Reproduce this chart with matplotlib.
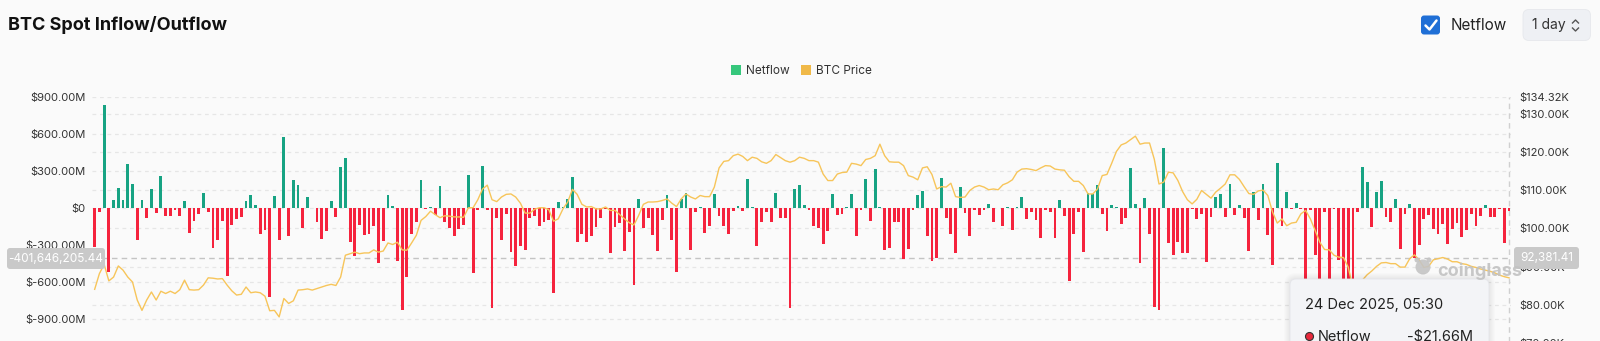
import matplotlib
matplotlib.use("Agg")
import matplotlib.pyplot as plt
from matplotlib.patches import FancyBboxPatch, Circle, Rectangle
from matplotlib.transforms import blended_transform_factory

# daily spot netflow, $M (28 Feb 2025 .. 24 Dec 2025)
netflow = [
    -320, -35, 837, -521, 62, 160, 62, 360, 195, -257,
    68, -84, 157, -38, 260, -68, -62, -19, -62, 60,
    -203, -103, -46, 122, -32, -327, -257, -105, -554, -135,
    -89, -76, 57, 103, 22, -211, -176, -721, 97, -257,
    572, -224, 224, 186, -162, 86, 3, -116, -251, -189,
    57, -76, 335, 408, -278, -392, -135, -216, -211, -143,
    -446, -270, 103, 14, -427, -829, -559, -211, -116, 230,
    -8, 5, -54, 181, -116, -162, -230, -170, -135, 270,
    -527, -19, 338, -19, -810, -84, -257, -46, -359, -467,
    -311, -338, -84, -62, -146, -116, -95, -689, 46, 5,
    70, 251, -273, -208, -278, -230, -157, -84, -5, -365,
    -157, -122, -346, -197, -621, 70, -162, -84, -216, -346,
    -97, 108, -257, -521, 76, 124, -343, -35, 5, -203,
    -149, 113, -62, -143, -208, -27, 14, -24, 235, 8,
    -311, -111, -35, -116, 124, -78, -84, -810, 154, 184,
    24, -19, -149, -162, -289, -184, 111, -54, -51, 11,
    116, -224, -19, 235, -103, 319, 11, -343, -327, -113,
    -116, -413, -329, -14, 108, 135, -224, -432, -405, 243,
    -81, -208, -365, 173, -41, -224, -16, -59, -19, 32,
    -113, -3, -143, 8, -181, 8, 89, -92, -35, -95,
    -240, -19, -35, -246, 68, -62, -589, -211, -30, -356,
    124, 116, 184, -51, -189, 24, 8, -130, -84, 324,
    32, -446, 81, -211, -802, -829, 483, -284, -378, -278,
    -365, -365, -8, -89, -51, -437, -70, 89, 111, -73,
    192, -57, 22, -81, -346, 127, -97, 192, -219, -459,
    365, -143, 130, -8, 41, -5, -700, -19, -378, -700,
    -35, -700, -8, -419, -650, -700, -650, -35, 329, 211,
    -154, 132, 219, -73, -113, 76, -332, -49, 35, -405,
    -302, -86, -59, -170, -208, -130, -289, -170, -122, -235,
    -176, -46, -149, -68, 22, -70, -76, -5, -286, -21.66,
]

# BTC price, $K, same days
btc_price = [
    84.1, 88.2, 90.6, 86.3, 87.3, 90.2, 89.1, 87.3, 86.0, 81.3,
    78.6, 81.3, 83.4, 81.3, 83.6, 83.0, 83.6, 83.0, 84.0, 86.5,
    84.0, 83.9, 84.0, 85.2, 87.1, 87.0, 86.8, 86.9, 85.2, 83.7,
    82.6, 82.8, 84.7, 83.2, 83.4, 83.2, 82.3, 78.5, 78.6, 76.9,
    81.7, 80.4, 81.1, 83.9, 84.0, 84.2, 83.9, 84.3, 84.7, 85.1,
    85.4, 85.1, 87.3, 93.0, 93.4, 93.8, 93.4, 93.6, 93.6, 94.4,
    93.8, 94.1, 96.2, 95.8, 96.4, 94.4, 94.3, 96.2, 98.2, 102.1,
    103.1, 104.5, 103.6, 102.8, 103.3, 103.2, 103.0, 103.0, 102.9, 105.4,
    105.4, 107.5, 110.3, 111.3, 107.5, 107.0, 108.2, 108.9, 109.0, 108.2,
    106.6, 104.0, 104.0, 105.0, 105.4, 105.4, 104.9, 101.9, 102.5, 105.1,
    106.9, 110.2, 108.9, 106.3, 105.6, 105.7, 105.1, 105.1, 105.6, 104.7,
    104.7, 103.6, 102.5, 101.5, 100.9, 103.4, 106.3, 106.9, 106.9, 107.0,
    107.3, 107.7, 106.6, 105.7, 107.7, 109.0, 108.2, 107.7, 108.6, 108.3,
    108.3, 110.8, 115.8, 117.5, 117.7, 119.0, 119.4, 118.8, 117.7, 118.6,
    118.3, 117.4, 117.0, 117.7, 119.3, 118.5, 117.7, 117.3, 117.7, 118.6,
    118.3, 117.7, 117.7, 117.3, 114.2, 112.5, 112.5, 114.2, 114.6, 114.7,
    117.0, 116.8, 116.4, 118.0, 118.3, 119.0, 122.0, 119.0, 117.4, 117.3,
    117.3, 116.4, 113.8, 113.4, 112.7, 115.8, 116.1, 114.1, 110.3, 110.9,
    110.8, 111.8, 108.3, 108.1, 108.2, 109.9, 110.8, 111.2, 110.8, 110.1,
    110.3, 110.1, 111.4, 111.9, 112.7, 114.7, 115.5, 115.6, 115.4, 115.1,
    115.8, 116.4, 116.3, 115.5, 115.3, 115.2, 113.5, 112.3, 112.3, 111.2,
    109.0, 109.0, 110.3, 113.8, 114.1, 117.0, 120.1, 121.8, 122.3, 123.2,
    124.1, 122.0, 122.3, 122.3, 118.1, 111.6, 112.1, 114.7, 114.5, 112.5,
    109.6, 107.5, 106.4, 107.6, 109.9, 108.9, 107.9, 109.5, 110.5, 111.6,
    114.0, 114.0, 112.8, 110.9, 109.1, 108.9, 109.8, 110.0, 108.6, 104.3,
    101.4, 102.5, 100.7, 101.4, 101.6, 103.8, 104.7, 102.5, 99.5, 96.4,
    94.5, 94.4, 93.0, 92.5, 92.4, 89.9, 84.5, 85.5, 86.5, 87.9,
    88.9, 90.1, 91.0, 91.1, 90.8, 90.8, 89.9, 89.9, 92.1, 93.1,
    91.8, 89.8, 90.1, 91.8, 92.1, 92.4, 92.0, 91.3, 91.3, 90.8,
    90.6, 90.1, 89.8, 89.4, 89.1, 88.8, 88.4, 87.8, 87.4, 87.1,
]

flow_ticks = [900, 600, 300, 0, -300, -600, -900]
flow_labels = ["$900.00M", "$600.00M", "$300.00M", "$0",
               "$-300.00M", "$-600.00M", "$-900.00M"]
price_ticks = [134.32, 130, 120, 110, 100, 90, 80, 70]
price_labels = ["$134.32K", "$130.00K", "$120.00K", "$110.00K",
                "$100.00K", "$90.00K", "$80.00K", "$70.00K"]

cursor_flow = -401646205.44 / 1e6
cursor_price = 92381.41 / 1e3
hover_date = "24 Dec 2025, 05:30"
hover_value = "-$21.66M"

BG = "#fafafa"
GREEN = "#17a383"
RED = "#f5233d"
PRICE = "#f7c55a"
GRID = "#e6e6e6"
TXT = "#333333"

plt.rcParams["font.family"] = ["Inter", "DejaVu Sans"]

W, H = 1600, 341
fig = plt.figure(figsize=(W / 100, H / 100), dpi=100, facecolor=BG)


def box(x0, y0, x1, y1):
    # pixel box (top-left origin) -> figure fraction
    return [x0 / W, 1 - y1 / H, (x1 - x0) / W, (y1 - y0) / H]


ax = fig.add_axes(box(92.3, 97, 1511.4, 360))
ax.set_facecolor("none")
ax2 = ax.twinx()

n = len(netflow)
xs = list(range(n))
ax.set_xlim(-0.5, n - 0.5)
ax.set_ylim(-1232.4, 900)
ax2.set_ylim(65.64, 134.32)

for a in (ax, ax2):
    for s in a.spines.values():
        s.set_visible(False)
    a.set_xticks([])
    a.tick_params(axis="y", length=0, labelsize=8, labelcolor=TXT)

ax.set_yticks(flow_ticks, flow_labels)
ax.tick_params(axis="y", pad=5)
ax2.set_yticks(price_ticks, price_labels)
ax2.tick_params(axis="y", pad=5.5)

# dashed grid for both scales, drawn under the bars
right_tr = blended_transform_factory(ax.transAxes, ax2.transData)
for v in flow_ticks:
    if v == -300:
        continue
    ax.plot([0, 1], [v, v], transform=ax.get_yaxis_transform(),
            color=GRID, lw=0.9, ls=(0, (3, 3)), zorder=0)
for p in price_ticks[1:]:
    ax.plot([0, 1], [p, p], transform=right_tr,
            color=GRID, lw=0.9, ls=(0, (3, 3)), zorder=0)

colors = [GREEN if v >= 0 else RED for v in netflow]
ax.bar(xs, netflow, width=0.6, color=colors, zorder=2)

# crosshair
ax.axhline(cursor_flow, color="#c4c4c4", lw=1.0, ls=(0, (4, 3)), zorder=1)
ax.axvline(n - 1, color="#d0d0d0", lw=1.0, ls=(0, (4, 3)), zorder=1)

ax2.plot(xs, btc_price, color=PRICE, lw=1.0, zorder=3)

# overlay in pixel coordinates for header, legend, labels and tooltip
ov = fig.add_axes([0, 0, 1, 1], zorder=10)
ov.set_xlim(0, W)
ov.set_ylim(H, 0)
ov.axis("off")
ov.patch.set_visible(False)

ov.text(8, 25, "BTC Spot Inflow/Outflow", fontsize=13, fontweight="bold",
        color="#111111", va="center", ha="left")

# netflow checkbox
ov.add_patch(FancyBboxPatch((1421, 15.5), 19, 19, boxstyle="round,pad=0,rounding_size=3",
                            fc="#1f6fd6", ec="none"))
ov.plot([1425.5, 1429.5, 1436.5], [25.5, 29.5, 20.5], color="white", lw=1.8,
        solid_capstyle="round", solid_joinstyle="round")
ov.text(1451, 25.5, "Netflow", fontsize=11, color="#222222", va="center", ha="left")

# interval selector
ov.add_patch(FancyBboxPatch((1523, 9.5), 67.5, 31, boxstyle="round,pad=0,rounding_size=6",
                            fc="#eef0f4", ec="#e6e8ec", lw=0.6))
ov.text(1531.5, 25.5, "1 day", fontsize=10, color="#333333", va="center", ha="left")
ov.plot([1572.5, 1575.5, 1578.5], [23, 20, 23], color="#555555", lw=1.0)
ov.plot([1572.5, 1575.5, 1578.5], [28, 31, 28], color="#555555", lw=1.0)

# legend
ov.add_patch(Rectangle((730.7, 65), 10, 10, fc="#36c77c", ec="none"))
ov.text(746, 70.5, "Netflow", fontsize=8.5, color=TXT, va="center", ha="left")
ov.add_patch(Rectangle((800.7, 65), 10, 10, fc="#f0b948", ec="none"))
ov.text(816, 70.5, "BTC Price", fontsize=8.5, color=TXT, va="center", ha="left")

# crosshair value badges
ov.add_patch(FancyBboxPatch((7, 248), 98, 21, boxstyle="round,pad=0,rounding_size=3",
                            fc="#c9c9c9", ec="none"))
ov.text(56, 258.5, f"{cursor_flow * 1e6:,.2f}", fontsize=8.5, color="white",
        va="center", ha="center")
ov.add_patch(FancyBboxPatch((1514, 247), 65, 22, boxstyle="round,pad=0,rounding_size=3",
                            fc="#c9c9c9", ec="none"))
ov.text(1546.5, 258, f"{cursor_price * 1e3:,.2f}", fontsize=8.5, color="white",
        va="center", ha="center")

# watermark
ov.add_patch(Circle((1423, 267), 7.5, fc="#c4c4c4", ec="none", alpha=0.9))
ov.add_patch(Circle((1417, 260), 2.5, fc="#c4c4c4", ec="none", alpha=0.9))
ov.add_patch(Circle((1429, 260), 2.5, fc="#c4c4c4", ec="none", alpha=0.9))
ov.text(1437, 271.5, "coinglass", fontsize=13, fontweight="bold", color="#c2c2c2",
        alpha=0.9, va="center", ha="left")

# tooltip
for k in range(1, 7):
    ov.add_patch(FancyBboxPatch((1290 - k, 279 - k), 199 + 2 * k, 120 + 2 * k,
                                boxstyle=f"round,pad=0,rounding_size={6 + k}",
                                fc="black", ec="none", alpha=0.012))
ov.add_patch(FancyBboxPatch((1290, 279), 199, 120, boxstyle="round,pad=0,rounding_size=6",
                            fc="#f3f4f7", ec="#e4e5ea", lw=0.6))
ov.text(1305, 304.5, hover_date, fontsize=10.5, color="#222222", va="center", ha="left")
ov.add_patch(Circle((1309.5, 336.5), 4, fc="#e8283c", ec="#333333", lw=0.8))
ov.text(1318, 337, "Netflow", fontsize=10.5, color="#222222", va="center", ha="left")
ov.text(1473, 337, hover_value, fontsize=10.5, color="#222222", va="center", ha="right")

fig.savefig("out.png", dpi=100, facecolor=BG)
